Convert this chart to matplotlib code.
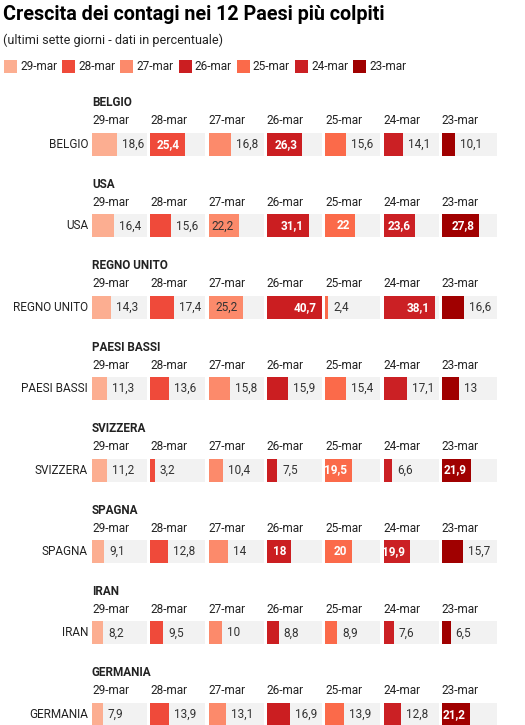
import matplotlib
matplotlib.use('Agg')
import matplotlib.pyplot as plt
from matplotlib.patches import Rectangle

plt.rcParams['font.family'] = ['Roboto', 'DejaVu Sans']

# data (growth % over the last seven days)
countries = ['BELGIO', 'USA', 'REGNO UNITO', 'PAESI BASSI',
             'SVIZZERA', 'SPAGNA', 'IRAN', 'GERMANIA']
dates = ['29-mar', '28-mar', '27-mar', '26-mar', '25-mar', '24-mar', '23-mar']
belgio = [18.6, 25.4, 16.8, 26.3, 15.6, 14.1, 10.1]
usa = [16.4, 15.6, 22.2, 31.1, 22, 23.6, 27.8]
regno_unito = [14.3, 17.4, 25.2, 40.7, 2.4, 38.1, 16.6]
paesi_bassi = [11.3, 13.6, 15.8, 15.9, 15.4, 17.1, 13]
svizzera = [11.2, 3.2, 10.4, 7.5, 19.5, 6.6, 21.9]
spagna = [9.1, 12.8, 14, 18, 20, 19.9, 15.7]
iran = [8.2, 9.5, 10, 8.8, 8.9, 7.6, 6.5]
germania = [7.9, 13.9, 13.1, 16.9, 13.9, 12.8, 21.2]
values = [belgio, usa, regno_unito, paesi_bassi, svizzera, spagna, iran, germania]

colors = ['#fcae91', '#ef4a3a', '#fc8a6b', '#cb1e21', '#fb6a4a', '#cb2024', '#a00000']
light = ['#fcae91', '#fc8a6b']

W, H = 525, 725
fig = plt.figure(figsize=(W / 100, H / 100), dpi=100)


def fx(x):
    return x / W


def fy(y):
    return 1 - y / H


# title, subtitle
fig.text(fx(3), fy(14), 'Crescita dei contagi nei 12 Paesi più colpiti',
         fontsize=14.2, fontweight='bold', va='center', ha='left', color='#000000')
fig.text(fx(3), fy(40), '(ultimi sette giorni - dati in percentuale)',
         fontsize=9, va='center', ha='left', color='#222222')

# legend
for i, (d, c) in enumerate(zip(dates, colors)):
    lx = 4 + i * 58.2
    fig.add_artist(Rectangle((fx(lx), fy(73)), 13 / W, 13 / H,
                             transform=fig.transFigure, color=c, lw=0))
    fig.text(fx(lx + 16), fy(66.5), d, fontsize=8.5, va='center',
             ha='left', color='#222222')

xmax = max(max(v) for v in values)
pitch = 81.4

for g, (country, vals) in enumerate(zip(countries, values)):
    top = g * pitch
    fig.text(fx(92), fy(103 + top), country, fontsize=8.5, fontweight='bold',
             va='center', ha='left', color='#222222')
    fig.text(fx(88), fy(144.5 + top), country, fontsize=8.5, va='center',
             ha='right', color='#222222')
    for i, v in enumerate(vals):
        x0 = 92 + i * 58.3
        ax = fig.add_axes([fx(x0), fy(133 + top + 23), 55 / W, 23 / H])
        ax.barh(0, v, height=1, color=colors[i], lw=0)
        ax.set_xlim(0, xmax)
        ax.set_ylim(-0.5, 0.5)
        ax.set_axis_off()
        # grey track behind the bar
        ax.add_patch(Rectangle((0, 0), 1, 1, transform=ax.transAxes,
                               color='#f2f2f2', zorder=0))
        fig.text(fx(x0), fy(121 + top), dates[i], fontsize=8.5,
                 va='center', ha='left', color='#222222')

        label = f'{v:g}'.replace('.', ',')
        inside = v >= 19 or (float(v).is_integer() and v >= 16)
        if inside:
            tc = '#333333' if colors[i] in light else 'white'
            ax.annotate(label, (v, 0), xytext=(-5, 0), textcoords='offset pixels',
                        ha='right', va='center', fontsize=8.5,
                        fontweight='bold' if tc == 'white' else 'normal',
                        color=tc, annotation_clip=False)
        else:
            ax.annotate(label, (v, 0), xytext=(5, 0), textcoords='offset pixels',
                        ha='left', va='center', fontsize=8.5,
                        color='#333333', annotation_clip=False)

fig.savefig('out.png', dpi=100)
